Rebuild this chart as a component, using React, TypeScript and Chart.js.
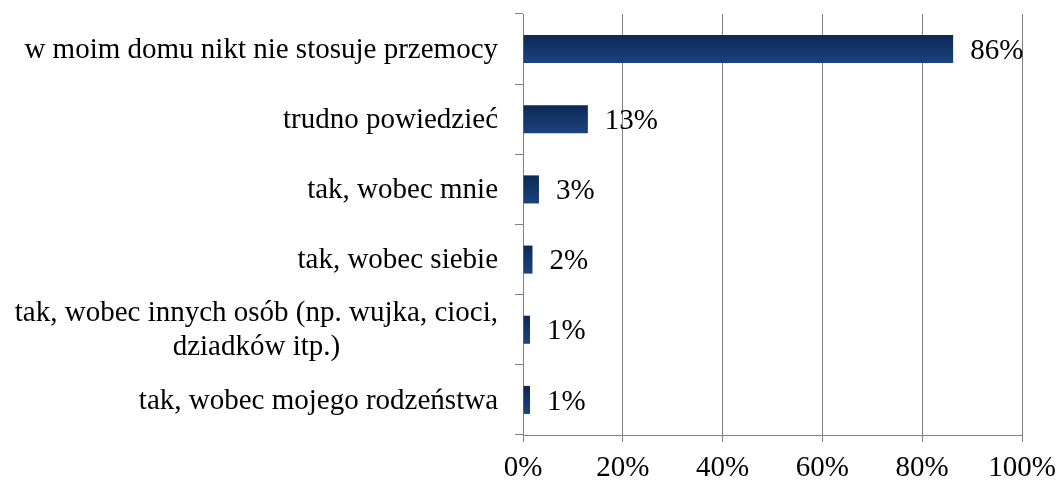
import React, { useEffect, useRef } from "react";
import { Chart, registerables } from "chart.js";

Chart.register(...registerables);

const categories: (string | string[])[] = [
  "w moim domu nikt nie stosuje przemocy",
  "trudno powiedzieć",
  "tak, wobec mnie",
  "tak, wobec siebie",
  ["tak, wobec innych osób (np. wujka, cioci,", "dziadków itp.)"],
  "tak, wobec mojego rodzeństwa",
];
const values: number[] = [86.2, 13.0, 3.2, 1.9, 1.4, 1.4];
const valueLabels: string[] = ["86%", "13%", "3%", "2%", "1%", "1%"];
const xTicks: number[] = [0, 20, 40, 60, 80, 100];

const FONT = "'Liberation Serif', 'Times New Roman', serif";
const FSIZE = 29;
const GRID = "#808080";

const labelsPlugin = {
  id: "customLabels",
  afterDatasetsDraw(chart: any) {
    const ctx = chart.ctx;
    const yScale = chart.scales.y;
    const area = chart.chartArea;
    ctx.save();
    ctx.fillStyle = "#000";
    ctx.font = `${FSIZE}px ${FONT}`;
    ctx.textBaseline = "middle";
    const right = area.left - 25;
    categories.forEach((cat, i) => {
      const lines = Array.isArray(cat) ? cat : [cat];
      const yc = yScale.getPixelForValue(i);
      const maxW = Math.max(...lines.map((l) => ctx.measureText(l).width));
      const lh = 34;
      lines.forEach((line, k) => {
        const y = yc + (k - (lines.length - 1) / 2) * lh + 1;
        if (lines.length > 1) {
          ctx.textAlign = "center";
          ctx.fillText(line, right - maxW / 2, y);
        } else {
          ctx.textAlign = "right";
          ctx.fillText(line, right, y);
        }
      });
    });
    const meta = chart.getDatasetMeta(0);
    ctx.textAlign = "left";
    meta.data.forEach((el: any, i: number) => {
      ctx.fillText(valueLabels[i], el.x + 17, el.y + 2);
    });
    ctx.restore();
  },
};

export default function App() {
  const ref = useRef<HTMLCanvasElement | null>(null);
  useEffect(() => {
    if (!ref.current) return;
    const chart = new Chart(ref.current, {
      type: "bar",
      data: {
        labels: categories.map((c) => (Array.isArray(c) ? c.join(" ") : c)),
        datasets: [
          {
            data: values,
            barPercentage: 0.4,
            categoryPercentage: 1,
            backgroundColor: (c: any) => {
              const ch = c.chart;
              const ys = ch.scales && ch.scales.y;
              if (!ys || c.dataIndex === undefined) return "#143a72";
              const yc = ys.getPixelForValue(c.dataIndex);
              const h = (0.4 * (ys.bottom - ys.top)) / categories.length;
              if (!isFinite(yc) || !isFinite(h) || h <= 0) return "#143a72";
              const g = ch.ctx.createLinearGradient(0, yc - h / 2, 0, yc + h / 2);
              g.addColorStop(0, "#0d2856");
              g.addColorStop(0.5, "#143669");
              g.addColorStop(1, "#1a4380");
              return g;
            },
            borderWidth: 0,
          },
        ],
      },
      options: {
        indexAxis: "y",
        animation: false,
        responsive: false,
        maintainAspectRatio: false,
        layout: { padding: { top: 14, right: 36, left: 0, bottom: 0 } },
        plugins: {
          legend: { display: false },
          tooltip: { enabled: false },
          title: { display: false },
        },
        scales: {
          x: {
            min: 0,
            max: 100,
            afterBuildTicks: (axis: any) => {
              axis.ticks = xTicks.map((v) => ({ value: v }));
            },
            afterFit: (axis: any) => {
              axis.height = 45;
              axis.paddingLeft = 0;
              axis.paddingRight = 0;
            },
            ticks: {
              color: "#000",
              font: { family: FONT, size: FSIZE },
              padding: 9,
              callback: (v: any) => `${v}%`,
              maxRotation: 0,
            },
            grid: {
              color: GRID,
              lineWidth: 1,
              drawTicks: true,
              tickLength: 7,
              tickColor: GRID,
            },
            border: { display: true, color: GRID, width: 1 },
          },
          y: {
            afterFit: (axis: any) => {
              axis.width = 523;
              axis.paddingTop = 0;
              axis.paddingBottom = 0;
            },
            ticks: { display: false },
            grid: {
              offset: true,
              drawOnChartArea: false,
              drawTicks: true,
              tickLength: 8,
              color: GRID,
              tickColor: GRID,
            },
            border: { display: true, color: GRID, width: 1 },
          },
        },
      },
      plugins: [labelsPlugin],
    });
    chart.update();
    return () => chart.destroy();
  }, []);
  return (
    <div style={{ position: "absolute", left: 0, top: 0, width: 1058, height: 480, background: "#fff" }}>
      <canvas ref={ref} width={1058} height={480} style={{ width: 1058, height: 480, display: "block" }} />
    </div>
  );
}
